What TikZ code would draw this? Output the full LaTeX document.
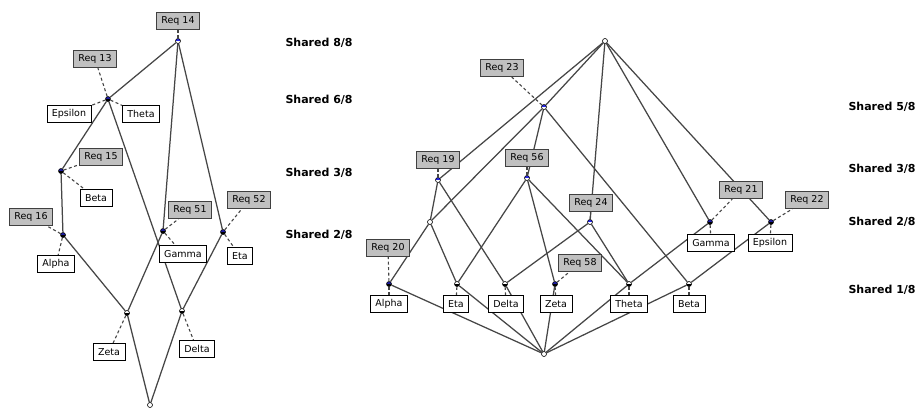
\documentclass[tikz,border=0pt]{standalone}
\usepackage{fontspec}
\setsansfont{DejaVu Sans}
\usetikzlibrary{backgrounds}
\definecolor{reqgray}{RGB}{192,192,192}
\definecolor{reqblue}{RGB}{40,40,230}
\definecolor{linegray}{RGB}{70,70,70}

\begin{document}
\begin{tikzpicture}[x=1pt,y=-1pt,font=\sffamily]
            \tikzset{concept/.style = {shape=circle, draw=black, fill=white, inner sep=0pt, minimum size=5pt, line width=0.6pt}}
            \tikzset{reqpt/.style = {concept, path picture={\fill[reqblue] (path picture bounding box.north west) rectangle (path picture bounding box.east);}}}
            \tikzset{objpt/.style = {concept, path picture={\fill[black] (path picture bounding box.west) rectangle (path picture bounding box.south east);}}}
            \tikzset{bothpt/.style = {concept, path picture={\fill[reqblue!70!black] (path picture bounding box.north west) rectangle (path picture bounding box.east); \fill[black] (path picture bounding box.west) rectangle (path picture bounding box.south east);}}}
            \tikzset{req/.style = {shape=rectangle, draw=black!75, line width=1.1pt, fill=reqgray, font=\sffamily\fontsize{9.5}{9.5}\selectfont, minimum height=17pt, inner xsep=5pt, inner ysep=0pt}}
            \tikzset{obj/.style = {shape=rectangle, draw=black, line width=0.9pt, fill=white, font=\sffamily\fontsize{9.5}{9.5}\selectfont, minimum height=17pt, inner xsep=5pt, inner ysep=0pt}}
            \tikzset{level/.style = {anchor=west, font=\sffamily\bfseries\fontsize{11}{11}\selectfont}}
            \tikzset{edge/.style = {draw=linegray, line width=1.25pt}}
            \tikzset{tag/.style = {draw=linegray, line width=1.1pt, dashed, dash pattern=on 3pt off 2.5pt}}
            \useasboundingbox (0,0) rectangle (918,408);
            % levels
            \node[level] (s8) at (282,43) {Shared 8/8};
            \node[level] (s6) at (282,100) {Shared 6/8};
            \node[level] (s3) at (282,173) {Shared 3/8};
            \node[level] (s2) at (282,235) {Shared 2/8};
            \node[level] (t5) at (845,107) {Shared 5/8};
            \node[level] (t3) at (845,169) {Shared 3/8};
            \node[level] (t2) at (845,222) {Shared 2/8};
            \node[level] (t1) at (845,290) {Shared 1/8};
            % left lattice, vertices
            \node[reqpt] (l14) at (178,41) {};
            \node[bothpt] (l13) at (108,99) {};
            \node[bothpt] (l15) at (61,171) {};
            \node[bothpt] (l16) at (63,235) {};
            \node[bothpt] (l51) at (163,231) {};
            \node[bothpt] (l52) at (223,232) {};
            \node[objpt] (lze) at (127,313) {};
            \node[objpt] (lde) at (182,311) {};
            \node[concept] (lbot) at (150,405) {};
            % left lattice, labels
            \node[req] (lr14) at (178,21) {Req 14};
            \node[req] (lr13) at (95,59) {Req 13};
            \node[req] (lr15) at (101,157) {Req 15};
            \node[req] (lr16) at (31,217) {Req 16};
            \node[req] (lr51) at (190,210) {Req 51};
            \node[req] (lr52) at (249,200) {Req 52};
            \node[obj] (lepsilon) at (69,114) {Epsilon};
            \node[obj] (ltheta) at (141,114) {Theta};
            \node[obj] (lbeta) at (96,198) {Beta};
            \node[obj] (lalpha) at (56,264) {Alpha};
            \node[obj] (lgamma) at (183,254) {Gamma};
            \node[obj] (leta) at (240,256) {Eta};
            \node[obj] (lzeta) at (109,352) {Zeta};
            \node[obj] (ldelta) at (197,349) {Delta};
            % right lattice, vertices
            \node[concept] (rtop) at (605,41) {};
            \node[reqpt] (r23) at (544,107) {};
            \node[reqpt] (r19) at (438,180) {};
            \node[reqpt] (r56) at (527,178) {};
            \node[concept] (rae) at (430,222) {};
            \node[reqpt] (r24) at (590,222) {};
            \node[bothpt] (ral) at (389,284) {};
            \node[objpt] (ret) at (457,284) {};
            \node[objpt] (rde) at (505,284) {};
            \node[bothpt] (rze) at (555,284) {};
            \node[objpt] (rth) at (629,284) {};
            \node[objpt] (rbe) at (689,284) {};
            \node[bothpt] (rga) at (710,222) {};
            \node[bothpt] (rep) at (771,222) {};
            \node[concept] (rbot) at (544,354) {};
            % right lattice, labels
            \node[req] (rr23) at (502,68) {Req 23};
            \node[req] (rr19) at (438,160) {Req 19};
            \node[req] (rr56) at (527,158) {Req 56};
            \node[req] (rr24) at (591,203) {Req 24};
            \node[req] (rr20) at (388,248) {Req 20};
            \node[req] (rr58) at (580,263) {Req 58};
            \node[req] (rr21) at (741,190) {Req 21};
            \node[req] (rr22) at (807,200) {Req 22};
            \node[obj] (ralpha) at (389,304) {Alpha};
            \node[obj] (reta) at (456,304) {Eta};
            \node[obj] (rdelta) at (506,304) {Delta};
            \node[obj] (rzeta) at (556,304) {Zeta};
            \node[obj] (rtheta) at (629,304) {Theta};
            \node[obj] (rbeta) at (689,304) {Beta};
            \node[obj] (rgamma) at (711,243) {Gamma};
            \node[obj] (repsilon) at (770,243) {Epsilon};
            \begin{pgfonlayer}{background}
            % left lattice, edges
            \draw[edge] (l14) to (l13);
            \draw[edge] (l14) to (l51);
            \draw[edge] (l14) to (l52);
            \draw[edge] (l13) to (l15);
            \draw[edge] (l13) to (lde);
            \draw[edge] (l15) to (l16);
            \draw[edge] (l16) to (lze);
            \draw[edge] (l51) to (lze);
            \draw[edge] (l52) to (lde);
            \draw[edge] (lze) to (lbot);
            \draw[edge] (lde) to (lbot);
            % left lattice, label ties
            \draw[tag] (l14) to (lr14);
            \draw[tag] (l13) to (lr13);
            \draw[tag] (l13) to (lepsilon);
            \draw[tag] (l13) to (ltheta);
            \draw[tag] (l15) to (lr15);
            \draw[tag] (l15) to (lbeta);
            \draw[tag] (l16) to (lr16);
            \draw[tag] (l16) to (lalpha);
            \draw[tag] (l51) to (lr51);
            \draw[tag] (l51) to (lgamma);
            \draw[tag] (l52) to (lr52);
            \draw[tag] (l52) to (leta);
            \draw[tag] (lze) to (lzeta);
            \draw[tag] (lde) to (ldelta);
            % right lattice, edges
            \draw[edge] (rtop) to (r23);
            \draw[edge] (rtop) to (r19);
            \draw[edge] (rtop) to (r24);
            \draw[edge] (rtop) to (rga);
            \draw[edge] (rtop) to (rep);
            \draw[edge] (r23) to (r56);
            \draw[edge] (r23) to (rae);
            \draw[edge] (r23) to (rbe);
            \draw[edge] (r19) to (rae);
            \draw[edge] (r19) to (rde);
            \draw[edge] (rae) to (ral);
            \draw[edge] (rae) to (ret);
            \draw[edge] (r56) to (ret);
            \draw[edge] (r56) to (rze);
            \draw[edge] (r56) to (rth);
            \draw[edge] (r24) to (rde);
            \draw[edge] (r24) to (rth);
            \draw[edge] (rga) to (rth);
            \draw[edge] (rep) to (rbe);
            \draw[edge] (ral) to (rbot);
            \draw[edge] (ret) to (rbot);
            \draw[edge] (rde) to (rbot);
            \draw[edge] (rze) to (rbot);
            \draw[edge] (rth) to (rbot);
            \draw[edge] (rbe) to (rbot);
            % right lattice, label ties
            \draw[tag] (r23) to (rr23);
            \draw[tag] (r19) to (rr19);
            \draw[tag] (r56) to (rr56);
            \draw[tag] (r24) to (rr24);
            \draw[tag] (ral) to (rr20);
            \draw[tag] (ral) to (ralpha);
            \draw[tag] (ret) to (reta);
            \draw[tag] (rde) to (rdelta);
            \draw[tag] (rze) to (rr58);
            \draw[tag] (rze) to (rzeta);
            \draw[tag] (rth) to (rtheta);
            \draw[tag] (rbe) to (rbeta);
            \draw[tag] (rga) to (rr21);
            \draw[tag] (rga) to (rgamma);
            \draw[tag] (rep) to (rr22);
            \draw[tag] (rep) to (repsilon);
            \end{pgfonlayer}
        \end{tikzpicture}
\end{document}
